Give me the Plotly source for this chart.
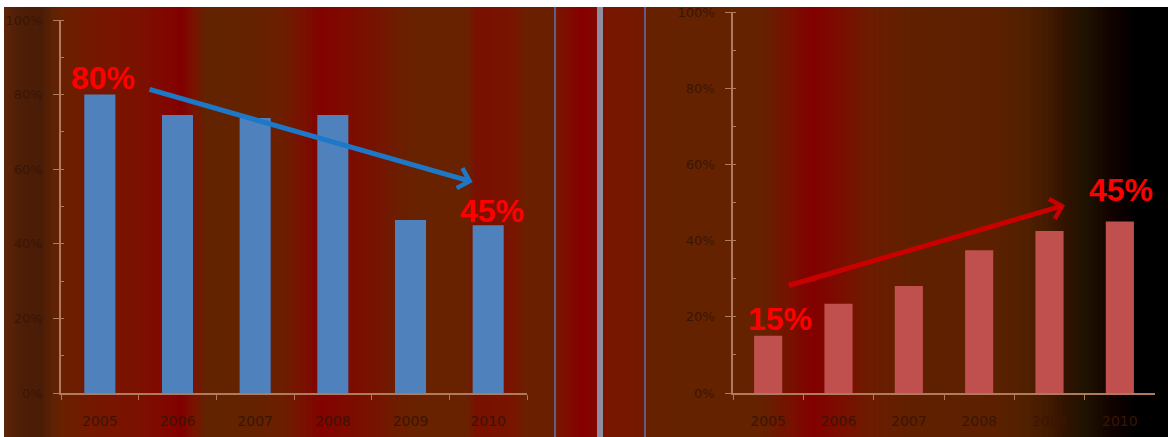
import plotly.graph_objects as go
from plotly.subplots import make_subplots

# ---- data ----
years = ["2005", "2006", "2007", "2008", "2009", "2010"]
share_left = [80, 74.5, 73.7, 74.5, 46.4, 45]
share_right = [15, 23.4, 28.1, 37.5, 42.5, 45]
y_ticks = [0, 20, 40, 60, 80, 100]
y_ticktext = ["0%", "20%", "40%", "60%", "80%", "100%"]

W, H = 1168, 437

fig = make_subplots(rows=1, cols=2)

fig.add_trace(go.Bar(x=years, y=share_left, marker_color="#4f81bd",
                     marker_line_width=0, showlegend=False), row=1, col=1)
fig.add_trace(go.Bar(x=years, y=share_right, marker_color="#c0504d",
                     marker_line_width=0, showlegend=False), row=1, col=2)

# ---- striped backdrop (pixel stops -> colour) ----
stops = [
    (4, "#5c2408"), (18, "#4e1e06"), (40, "#4a1c06"), (52, "#5e2204"),
    (62, "#6a2000"), (90, "#741800"), (140, "#7c1000"), (165, "#820600"),
    (180, "#800000"), (192, "#7a1200"), (205, "#622400"), (250, "#642200"),
    (280, "#6c1e00"), (300, "#781200"), (320, "#820200"), (345, "#7e0a00"),
    (380, "#741600"), (410, "#682200"), (465, "#682200"), (475, "#7a1000"),
    (510, "#781400"), (525, "#6a2000"), (553, "#6a2000"), (558, "#7a1400"),
    (580, "#860000"), (596, "#800800"), (605, "#7a1600"), (640, "#741800"),
    (648, "#662200"), (760, "#642200"), (790, "#781000"), (810, "#820000"),
    (835, "#7c0c00"), (870, "#6c1c00"), (910, "#602000"), (990, "#5c2000"),
    (1025, "#502000"), (1045, "#441a00"), (1065, "#301200"), (1085, "#1e1200"),
    (1110, "#120200"), (1135, "#000000"), (1168, "#000000"),
]


def hex2rgb(h):
    return tuple(int(h[i:i + 2], 16) for i in (1, 3, 5))


top_px = 7
shapes = []
step = 3
for (x0, c0), (x1, c1) in zip(stops[:-1], stops[1:]):
    r0, r1 = hex2rgb(c0), hex2rgb(c1)
    x = x0
    while x < x1:
        t = (x - x0) / max(x1 - x0, 1)
        col = tuple(round(a + (b - a) * t) for a, b in zip(r0, r1))
        xe = min(x + step, x1)
        shapes.append(dict(type="rect", xref="paper", yref="paper",
                           x0=x / W, x1=(xe + 0.6) / W, y0=0, y1=(H - top_px) / H,
                           fillcolor="rgb(%d,%d,%d)" % col, line_width=0,
                           layer="below"))
        x = xe

# divider lines between the two panels
for xc, wpx, col in [(555, 2, "#5e5e88"), (600, 6, "#8e8ea2"), (645, 2, "#5e5e88")]:
    shapes.append(dict(type="rect", xref="paper", yref="paper",
                       x0=(xc - wpx / 2) / W, x1=(xc + wpx / 2) / W,
                       y0=0, y1=(H - top_px) / H, fillcolor=col, line_width=0,
                       layer="below"))

axis_col = "#b07a5e"
tick_font = dict(family="DejaVu Sans", size=13, color="#3a1505")

fig.update_layout(
    width=W, height=H,
    margin=dict(l=0, r=0, t=0, b=0, autoexpand=False),
    paper_bgcolor="white",
    plot_bgcolor="rgba(0,0,0,0)",
    bargap=0.6,
    shapes=shapes,
)

# axes geometry
fig.update_xaxes(domain=[61 / W, 527 / W], row=1, col=1)
fig.update_xaxes(domain=[733 / W, 1155 / W], row=1, col=2)
fig.update_yaxes(domain=[(H - 393) / H, (H - 20) / H], row=1, col=1)
fig.update_yaxes(domain=[(H - 393) / H, (H - 12) / H], row=1, col=2)

fig.update_xaxes(
    range=[-0.5, 5.5], showgrid=False, zeroline=False, automargin=False,
    showline=True, linecolor=axis_col, linewidth=1.5,
    ticks="outside", ticklen=5, tickcolor=axis_col, tickson="boundaries",
    tickfont=dict(family="DejaVu Sans", size=14, color="#3a1505"),
    ticklabelstandoff=14,
)
fig.update_yaxes(
    range=[0, 100], showgrid=False, zeroline=False, automargin=False,
    showline=True, linecolor=axis_col, linewidth=1.5,
    tickvals=y_ticks, ticktext=y_ticktext,
    ticks="outside", ticklen=6, tickcolor=axis_col,
    tickfont=tick_font, ticklabelstandoff=8,
    minor=dict(dtick=10, ticks="inside", ticklen=3, tickcolor=axis_col),
)

# ---- trend arrows and end labels ----
label_font = dict(family="Liberation Sans", size=32, color="#ff0000")
fig.add_annotation(xref="x", yref="y", axref="x", ayref="y",
                   x=4.80, y=56.6, ax=0.62, ay=81.5, showarrow=True,
                   arrowhead=4, arrowsize=0.8, arrowwidth=5,
                   arrowcolor="#1e78c8", text="")
fig.add_annotation(xref="x2", yref="y2", axref="x2", ayref="y2",
                   x=4.22, y=49.3, ax=0.27, ay=28.1, showarrow=True,
                   arrowhead=4, arrowsize=0.8, arrowwidth=5,
                   arrowcolor="#c80000", text="")

labels = [
    ("x", "y", 0.04, share_left[0] + 4.5, share_left[0]),
    ("x", "y", 5.05, share_left[-1] + 3.8, share_left[-1]),
    ("x2", "y2", 0.17, share_right[0] + 4.4, share_right[0]),
    ("x2", "y2", 5.02, share_right[-1] + 8.3, share_right[-1]),
]
for xr, yr, xv, yv, val in labels:
    fig.add_annotation(xref=xr, yref=yr, x=xv, y=yv, showarrow=False,
                       text="<b>%d%%</b>" % round(val), font=label_font)

fig.write_html("out.html")
